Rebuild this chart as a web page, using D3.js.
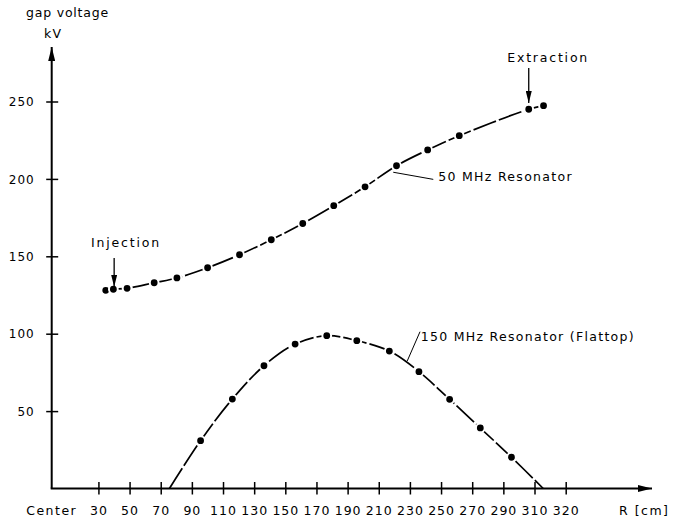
<!DOCTYPE html>
<html>
<head>
<meta charset="utf-8">
<script src="https://cdn.jsdelivr.net/npm/d3@7/dist/d3.min.js"></script>
<style>
  html, body { margin: 0; padding: 0; background: #fff; }
  text { font-family: "DejaVu Sans", sans-serif; fill: #000; }
</style>
</head>
<body>
<svg id="chart" width="680" height="523"></svg>
<script>
// ---- data ----
const xTickValues = [30, 50, 70, 90, 110, 130, 150, 170, 190, 210, 230, 250, 270, 290, 310, 320];
const yTickValues = [50, 100, 150, 200, 250];

const res50R = [34.7, 39.6, 48.4, 65.8, 80.4, 100.1, 120.6, 141.0, 161.2, 181.1, 201.2, 221.4, 241.4, 261.7, 306.3, 312.9];
const res50V = [128.0, 128.7, 129.3, 132.9, 136.0, 142.6, 151.0, 160.7, 171.2, 182.7, 194.9, 208.5, 218.7, 227.9, 245.0, 247.3];

const res150R = [95.6, 116.0, 136.3, 156.3, 176.6, 195.9, 216.8, 235.8, 255.5, 275.2, 295.2];
const res150V = [30.9, 57.8, 79.3, 93.3, 98.7, 95.5, 88.8, 75.5, 57.6, 39.1, 20.2];
const res150ZeroR = [75.6, 312.8]; // where the flattop curve meets the axis

// ---- layout ----
const svg = d3.select("#chart");
const x = d3.scaleLinear().domain([0, 310, 320]).range([51.7, 534.5, 565.7]);
const y = d3.scaleLinear().domain([0, 250]).range([488.5, 101.5]);
const axisX0 = x(0), axisY0 = y(0);

// arrow markers
const defs = svg.append("defs");
defs.append("marker").attr("id", "bigArrow")
  .attr("viewBox", "0 0 14 7").attr("refX", 14).attr("refY", 3.5)
  .attr("markerWidth", 14).attr("markerHeight", 7).attr("markerUnits", "userSpaceOnUse")
  .attr("orient", "auto")
  .append("path").attr("d", "M0,0 L14,3.5 L0,7 Z").attr("fill", "#000");
defs.append("marker").attr("id", "smallArrow")
  .attr("viewBox", "0 0 12 6").attr("refX", 12).attr("refY", 3)
  .attr("markerWidth", 12).attr("markerHeight", 6).attr("markerUnits", "userSpaceOnUse")
  .attr("orient", "auto")
  .append("path").attr("d", "M0,0 L12,3 L0,6 Z").attr("fill", "#000");

// axes lines
svg.append("line").attr("x1", axisX0).attr("y1", axisY0).attr("x2", axisX0).attr("y2", 47)
  .attr("stroke", "#000").attr("stroke-width", 2).attr("marker-end", "url(#bigArrow)");
svg.append("line").attr("x1", axisX0 - 1).attr("y1", axisY0).attr("x2", 652).attr("y2", axisY0)
  .attr("stroke", "#000").attr("stroke-width", 2).attr("marker-end", "url(#bigArrow)");

// y ticks (crossing)
const yAxis = d3.axisLeft(y).tickValues(yTickValues).tickSize(0).tickPadding(0);
const gy = svg.append("g").attr("transform", `translate(${axisX0},0)`).call(yAxis);
gy.select(".domain").remove();
gy.selectAll(".tick").append("line").attr("x1", -5.5).attr("x2", 6.5).attr("stroke", "#000").attr("stroke-width", 1.5);
gy.selectAll(".tick text").attr("x", -17).attr("dy", "0.35em")
  .style("font-size", "12px").style("letter-spacing", "1px").attr("font-family", null).attr("fill", "#000");

// x ticks (crossing)
const xAxis = d3.axisBottom(x).tickValues(xTickValues).tickSize(0).tickPadding(0);
const gx = svg.append("g").attr("transform", `translate(0,${axisY0})`).call(xAxis);
gx.select(".domain").remove();
gx.selectAll(".tick").append("line").attr("y1", -6.5).attr("y2", 6).attr("stroke", "#000").attr("stroke-width", 1.5);
gx.selectAll(".tick text").attr("y", 26.5).attr("dy", 0)
  .style("font-size", "12.5px").style("letter-spacing", "1px").attr("font-family", null).attr("fill", "#000");

// axis labels
svg.append("text").attr("x", axisX0).attr("y", 515).attr("text-anchor", "middle")
  .style("font-size", "12.5px").style("letter-spacing", "1.5px").text("Center");
svg.append("text").attr("x", 619).attr("y", 515)
  .style("font-size", "12.5px").style("letter-spacing", "1.5px").text("R [cm]");
svg.append("text").attr("x", 26).attr("y", 17)
  .style("font-size", "12.5px").style("letter-spacing", "0.8px").text("gap voltage");
svg.append("text").attr("x", 44).attr("y", 37.5)
  .style("font-size", "12.5px").style("letter-spacing", "1.3px").text("kV");

// curves
const line = d3.line().x(d => x(d[0])).y(d => y(d[1])).curve(d3.curveCatmullRom.alpha(0.5));
const pts50 = res50R.map((r, i) => [r, res50V[i]]);
const pts150 = res150R.map((r, i) => [r, res150V[i]]);
const curve150 = [[res150ZeroR[0], 0], ...pts150, [res150ZeroR[1], 0]];

svg.append("path").datum(pts50).attr("d", line).attr("fill", "none")
  .attr("stroke", "#000").attr("stroke-width", 1.7).attr("stroke-dasharray", "24,3");
svg.append("path").datum(curve150).attr("d", line).attr("fill", "none")
  .attr("stroke", "#000").attr("stroke-width", 1.7).attr("stroke-dasharray", "24,3");

// dots
[pts50, pts150].forEach(pts => {
  svg.append("g").selectAll("circle").data(pts).join("circle")
    .attr("cx", d => x(d[0])).attr("cy", d => y(d[1])).attr("r", 4.4)
    .attr("fill", "#000").attr("stroke", "#fff").attr("stroke-width", 2);
});

// annotations (data units)
const annFont = "12.5px";
// Injection
svg.append("text").attr("x", x(25.3)).attr("y", y(156.2))
  .style("font-size", annFont).style("letter-spacing", "1.8px").text("Injection");
svg.append("line").attr("x1", x(40.1)).attr("y1", y(148.9)).attr("x2", x(40.1)).attr("y2", y(130.3))
  .attr("stroke", "#000").attr("stroke-width", 1.3).attr("marker-end", "url(#smallArrow)");
// Extraction
svg.append("text").attr("x", x(292.5)).attr("y", y(275.7))
  .style("font-size", annFont).style("letter-spacing", "1.8px").text("Extraction");
svg.append("line").attr("x1", x(306.3)).attr("y1", y(271.6)).attr("x2", x(306.3)).attr("y2", y(249.0))
  .attr("stroke", "#000").attr("stroke-width", 1.3).attr("marker-end", "url(#smallArrow)");
// 50 MHz
svg.append("line").attr("x1", x(219.3)).attr("y1", y(204.3)).attr("x2", x(245.0)).attr("y2", y(199.7))
  .attr("stroke", "#000").attr("stroke-width", 1);
svg.append("text").attr("x", x(248.2)).attr("y", y(198.8))
  .style("font-size", annFont).style("letter-spacing", "1.3px").text("50 MHz Resonator");
// 150 MHz
svg.append("line").attr("x1", x(228.3)).attr("y1", y(82.4)).attr("x2", x(236.5)).attr("y2", y(101.3))
  .attr("stroke", "#000").attr("stroke-width", 1);
svg.append("text").attr("x", x(236.9)).attr("y", y(95.5))
  .style("font-size", annFont).style("letter-spacing", "1.3px").text("150 MHz Resonator (Flattop)");
</script>
</body>
</html>
